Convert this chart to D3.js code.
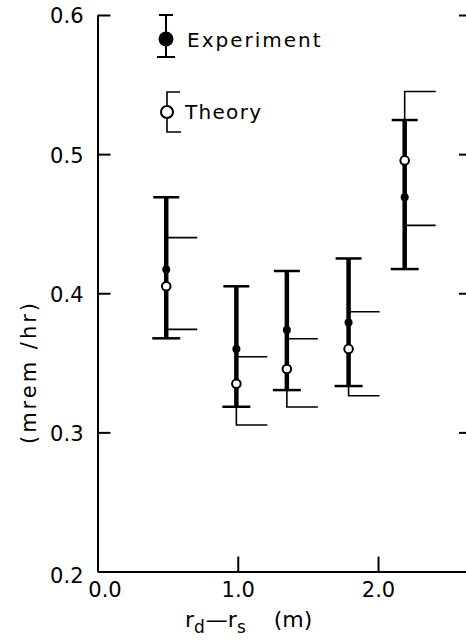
<!DOCTYPE html>
<html>
<head>
<meta charset="utf-8">
<script src="https://cdn.jsdelivr.net/npm/d3@7"></script>
<style>
  body { margin: 0; background: #fff; }
  text { font-family: "DejaVu Sans", sans-serif; fill: #000; }
</style>
</head>
<body>
<div id="chart"></div>
<script>
// values
let xPos      = [0.49, 0.99, 1.35, 1.79, 2.19];
let expValue  = [0.417, 0.360, 0.3735, 0.379, 0.469];
let expHigh   = [0.469, 0.405, 0.416, 0.425, 0.5245];
let expLow    = [0.3676, 0.3184, 0.3304, 0.3333, 0.4174];
let thValue   = [0.405, 0.335, 0.3455, 0.360, 0.4955];
let thHigh    = [0.440, 0.3544, 0.3673, 0.3867, 0.545];
let thLow     = [0.374, 0.3053, 0.3182, 0.3263, 0.4488];
let yTicks    = [0.2, 0.3, 0.4, 0.5, 0.6];
let xTicks    = [0, 1, 2];

let W = 466, H = 641;

let svg = d3.select("#chart")
  .append("svg")
  .attr("width", W)
  .attr("height", H);

let x = d3.scaleLinear().domain([0, 2.63]).range([97.5, 466.4]);
let y = d3.scaleLinear().domain([0.2, 0.6]).range([571.5, 15]);

// left axis, ticks point inwards
let yAxis = svg.append("g")
  .attr("transform", "translate(" + x(0) + ",0)")
  .call(d3.axisLeft(y).tickValues(yTicks).tickSizeInner(-13).tickSizeOuter(0)
    .tickPadding(14).tickFormat(d3.format(".1f")));
yAxis.selectAll("path, line").attr("stroke", "#000").attr("stroke-width", 2);
yAxis.selectAll("text").style("font-size", "21px").attr("dy", "0.38em");
yAxis.selectAll("text").filter(d => d === 0.2).attr("dy", "0.5em");

// bottom axis
let xAxis = svg.append("g")
  .attr("transform", "translate(0," + y(0.2) + ")")
  .call(d3.axisBottom(x).tickValues(xTicks).tickSizeInner(-15).tickSizeOuter(0)
    .tickPadding(11).tickFormat(d3.format(".1f")));
xAxis.selectAll("path, line").attr("stroke", "#000").attr("stroke-width", 2);
xAxis.selectAll("text").style("font-size", "21px");
xAxis.selectAll("text").filter(d => d === 0).attr("dx", "7px");
xAxis.selectAll(".tick line").filter(d => d === 0).remove();

// ticks of the right frame edge
let rAxis = svg.append("g")
  .attr("transform", "translate(" + W + ",0)")
  .call(d3.axisRight(y).tickValues(yTicks.filter(d => d > 0.2)).tickSize(-7).tickFormat(""));
rAxis.select(".domain").remove();
rAxis.selectAll("line").attr("stroke", "#000").attr("stroke-width", 2);

let pts = xPos.map((v, i) => ({
  x: v, e: expValue[i], eh: expHigh[i], el: expLow[i],
  t: thValue[i], th: thHigh[i], tl: thLow[i]
}));

let g = svg.append("g");

// theory brackets (thin line, arms going right)
g.selectAll(".th")
  .data(pts)
  .enter()
  .append("path")
  .attr("fill", "none")
  .attr("stroke", "#000")
  .attr("stroke-width", 1.6)
  .attr("d", d => "M" + (x(d.x) + 31) + "," + y(d.th) + "H" + x(d.x) +
    "V" + y(d.tl) + "H" + (x(d.x) + 31));

// experiment bars
g.selectAll(".ebar")
  .data(pts)
  .enter()
  .append("line")
  .attr("x1", d => x(d.x)).attr("x2", d => x(d.x))
  .attr("y1", d => y(d.eh)).attr("y2", d => y(d.el))
  .attr("stroke", "#000")
  .attr("stroke-width", 4.5);

g.selectAll(".ecapT")
  .data(pts)
  .enter()
  .append("line")
  .attr("x1", d => x(d.x) - 13).attr("x2", d => x(d.x) + 13)
  .attr("y1", d => y(d.eh)).attr("y2", d => y(d.eh))
  .attr("stroke", "#000").attr("stroke-width", 2.5);

g.selectAll(".ecapB")
  .data(pts)
  .enter()
  .append("line")
  .attr("x1", d => x(d.x) - 14).attr("x2", d => x(d.x) + 14)
  .attr("y1", d => y(d.el)).attr("y2", d => y(d.el))
  .attr("stroke", "#000").attr("stroke-width", 2.5);

// markers
g.selectAll(".edot")
  .data(pts)
  .enter()
  .append("circle")
  .attr("cx", d => x(d.x)).attr("cy", d => y(d.e))
  .attr("r", 4)
  .attr("fill", "#000");

g.selectAll(".tdot")
  .data(pts)
  .enter()
  .append("circle")
  .attr("cx", d => x(d.x)).attr("cy", d => y(d.t))
  .attr("r", 4.3)
  .attr("fill", "#fff")
  .attr("stroke", "#000")
  .attr("stroke-width", 2);

// legend
let leg = svg.append("g");
leg.append("line").attr("x1", 166).attr("x2", 166).attr("y1", 15).attr("y2", 57)
  .attr("stroke", "#000").attr("stroke-width", 2);
leg.append("line").attr("x1", 159).attr("x2", 173).attr("y1", 15).attr("y2", 15)
  .attr("stroke", "#000").attr("stroke-width", 2);
leg.append("line").attr("x1", 157).attr("x2", 175).attr("y1", 57).attr("y2", 57)
  .attr("stroke", "#000").attr("stroke-width", 2);
leg.append("circle").attr("cx", 166).attr("cy", 39).attr("r", 7.5).attr("fill", "#000");
leg.append("text").attr("x", 187).attr("y", 40).attr("dy", "0.36em")
  .style("font-size", "20px").style("letter-spacing", "2px").text("Experiment");

leg.append("path").attr("fill", "none").attr("stroke", "#000").attr("stroke-width", 1.6)
  .attr("d", "M180,92H167V132H181");
leg.append("circle").attr("cx", 167).attr("cy", 112).attr("r", 6)
  .attr("fill", "#fff").attr("stroke", "#000").attr("stroke-width", 2);
leg.append("text").attr("x", 185).attr("y", 112).attr("dy", "0.36em")
  .style("font-size", "20px").style("letter-spacing", "1.3px").text("Theory");

// axis titles
svg.append("text")
  .attr("transform", "translate(36,372) rotate(-90)")
  .attr("text-anchor", "middle")
  .style("font-size", "21px")
  .style("letter-spacing", "3px")
  .text("(mrem /hr)");

let xt = svg.append("text")
  .attr("x", 185).attr("y", 627)
  .style("font-size", "22px");
xt.append("tspan").text("r");
xt.append("tspan").attr("dy", 6).style("font-size", "17px").text("d");
xt.append("tspan").attr("dy", -6).attr("dx", 1).text("—r");
xt.append("tspan").attr("dy", 6).style("font-size", "17px").text("s");
xt.append("tspan").attr("dy", -6).attr("dx", 28).text("(m)");
</script>
</body>
</html>
